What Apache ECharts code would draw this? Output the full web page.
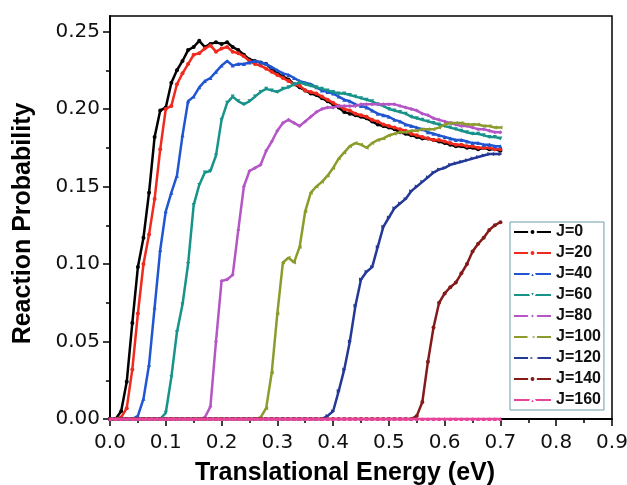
<!DOCTYPE html>
<html><head><meta charset="utf-8">
<script src="https://cdn.jsdelivr.net/npm/echarts@6/dist/echarts.min.js"></script>
<style>html,body{margin:0;padding:0;background:#fff}#c{width:627px;height:485px}</style>
</head><body><div id="c"></div>
<script>
const energy = [0.00,0.01,0.02,0.03,0.04,0.05,0.06,0.07,0.08,0.09,0.10,0.11,0.12,0.13,0.14,0.15,0.16,0.17,0.18,0.19,0.20,0.21,0.22,0.23,0.24,0.25,0.26,0.27,0.28,0.29,0.30,0.31,0.32,0.33,0.34,0.35,0.36,0.37,0.38,0.39,0.40,0.41,0.42,0.43,0.44,0.45,0.46,0.47,0.48,0.49,0.50,0.51,0.52,0.53,0.54,0.55,0.56,0.57,0.58,0.59,0.60,0.61,0.62,0.63,0.64,0.65,0.66,0.67,0.68,0.69,0.70];
const j0 = [0,0,0.005,0.024,0.062,0.098,0.117,0.146,0.182,0.199,0.201,0.217,0.225,0.231,0.238,0.240,0.244,0.240,0.242,0.243,0.242,0.243,0.240,0.238,0.235,0.232,0.231,0.230,0.229,0.226,0.223,0.221,0.219,0.216,0.214,0.212,0.210,0.209,0.207,0.205,0.203,0.201,0.198,0.197,0.196,0.195,0.194,0.192,0.190,0.189,0.188,0.187,0.185,0.184,0.183,0.182,0.181,0.181,0.180,0.179,0.178,0.177,0.176,0.176,0.175,0.175,0.174,0.175,0.174,0.174,0.173];
const j20 = [0,0,0.001,0.007,0.032,0.068,0.100,0.119,0.142,0.174,0.200,0.202,0.216,0.223,0.229,0.235,0.236,0.239,0.241,0.237,0.239,0.240,0.237,0.236,0.234,0.231,0.229,0.228,0.226,0.224,0.222,0.220,0.218,0.216,0.215,0.212,0.211,0.210,0.208,0.206,0.204,0.202,0.200,0.199,0.197,0.196,0.195,0.193,0.192,0.190,0.189,0.188,0.187,0.186,0.184,0.183,0.182,0.181,0.180,0.180,0.179,0.178,0.177,0.177,0.176,0.176,0.175,0.175,0.175,0.174,0.174];
const j40 = [0,0,0,0,0,0.002,0.013,0.035,0.072,0.109,0.134,0.146,0.157,0.183,0.205,0.208,0.214,0.218,0.220,0.224,0.228,0.231,0.228,0.229,0.229,0.230,0.231,0.230,0.229,0.227,0.225,0.223,0.222,0.220,0.218,0.217,0.216,0.214,0.212,0.211,0.210,0.208,0.206,0.205,0.203,0.202,0.201,0.199,0.197,0.196,0.195,0.193,0.192,0.190,0.189,0.188,0.187,0.185,0.184,0.183,0.182,0.181,0.180,0.180,0.179,0.178,0.178,0.177,0.177,0.176,0.176];
const j60 = [0,0,0,0,0,0,0,0,0,0,0.004,0.027,0.056,0.074,0.100,0.138,0.151,0.159,0.160,0.170,0.193,0.204,0.208,0.205,0.203,0.205,0.208,0.211,0.213,0.212,0.211,0.213,0.214,0.216,0.217,0.216,0.215,0.214,0.213,0.212,0.211,0.210,0.210,0.209,0.208,0.207,0.206,0.205,0.203,0.202,0.200,0.199,0.198,0.197,0.195,0.194,0.193,0.192,0.191,0.190,0.189,0.188,0.187,0.186,0.185,0.184,0.184,0.183,0.182,0.182,0.181];
const j80 = [0,0,0,0,0,0,0,0,0,0,0,0,0,0,0,0,0,0.001,0.008,0.050,0.089,0.090,0.093,0.122,0.150,0.160,0.162,0.164,0.173,0.179,0.186,0.191,0.193,0.191,0.189,0.192,0.195,0.198,0.200,0.201,0.201,0.202,0.202,0.202,0.202,0.203,0.203,0.203,0.203,0.203,0.203,0.203,0.202,0.201,0.200,0.199,0.197,0.196,0.194,0.193,0.192,0.191,0.190,0.189,0.189,0.188,0.187,0.187,0.186,0.185,0.185];
const j100 = [0,0,0,0,0,0,0,0,0,0,0,0,0,0,0,0,0,0,0,0,0,0,0,0,0,0,0,0.001,0.007,0.030,0.068,0.101,0.104,0.101,0.111,0.134,0.146,0.150,0.153,0.157,0.162,0.168,0.172,0.176,0.178,0.177,0.175,0.178,0.180,0.181,0.183,0.184,0.185,0.185,0.186,0.186,0.187,0.187,0.187,0.188,0.190,0.191,0.191,0.191,0.190,0.190,0.190,0.189,0.189,0.188,0.188];
const j120 = [0,0,0,0,0,0,0,0,0,0,0,0,0,0,0,0,0,0,0,0,0,0,0,0,0,0,0,0,0,0,0,0,0,0,0,0,0,0,0,0.002,0.005,0.018,0.032,0.050,0.073,0.090,0.095,0.098,0.111,0.124,0.130,0.136,0.139,0.142,0.147,0.150,0.153,0.156,0.159,0.161,0.162,0.164,0.165,0.166,0.167,0.168,0.169,0.170,0.171,0.171,0.171];
const j140 = [0,0,0,0,0,0,0,0,0,0,0,0,0,0,0,0,0,0,0,0,0,0,0,0,0,0,0,0,0,0,0,0,0,0,0,0,0,0,0,0,0,0,0,0,0,0,0,0,0,0,0,0,0,0,0,0.002,0.011,0.037,0.059,0.075,0.081,0.085,0.088,0.094,0.100,0.108,0.113,0.117,0.122,0.125,0.127];
const j160 = [0,0,0,0,0,0,0,0,0,0,0,0,0,0,0,0,0,0,0,0,0,0,0,0,0,0,0,0,0,0,0,0,0,0,0,0,0,0,0,0,0,0,0,0,0,0,0,0,0,0,0,0,0,0,0,0,0,0,0,0,0,0,0,0,0,0,0,0,0,0,0];
const seriesNames = ['J=0','J=20','J=40','J=60','J=80','J=100','J=120','J=140','J=160'];
const seriesValues = [j0,j20,j40,j60,j80,j100,j120,j140,j160];
const seriesColors = ['#000000','#f02a1e','#2156d2','#17938a','#b456c6','#8c9b2c','#243896','#841a1a','#e8449a'];
const seriesSymbols = ['circle','circle','triangle','triangle','diamond','triangle','triangle','circle','triangle'];
const seriesRotate = [0,0,0,180,0,90,-90,0,0];
const yMajor = [0,0.05,0.10,0.15,0.20,0.25];
const yMinor = [0.025,0.075,0.125,0.175,0.225];

const chart = echarts.init(document.getElementById('c'), null, {renderer:'canvas'});
const font = 'Liberation Sans, Arial, sans-serif';
const tickFont = 'DejaVu Sans, sans-serif';
const series = seriesNames.map((n,i)=>({
  name:n, type:'line', xAxisIndex:0, yAxisIndex:0, z:10+i,
  data: energy.map((e,k)=>[e, seriesValues[i][k]]),
  symbol: seriesSymbols[i], symbolRotate: seriesRotate[i], symbolSize: 4,
  showSymbol:true, clip:false,
  lineStyle:{color:seriesColors[i], width:2.5},
  itemStyle:{color:seriesColors[i]},
  emphasis:{disabled:true}
}));
chart.setOption({
  animation:false,
  backgroundColor:'#fff',
  grid:{left:110, right:15, top:16, bottom:66, containLabel:false, outerBoundsMode:'none',
        show:true, borderColor:'#000', borderWidth:1.5, backgroundColor:'transparent', z:0},
  xAxis:[{
    type:'value', min:0, max:0.9, interval:0.1, z:1,
    name:'Translational Energy (eV)', nameLocation:'middle', nameGap:42,
    nameTextStyle:{fontFamily:font, fontWeight:'bold', fontSize:25, color:'#000', padding:[0,32,0,0]},
    axisLine:{show:true, onZero:false, lineStyle:{color:'#000', width:2}},
    axisTick:{show:true, inside:false, length:7, lineStyle:{color:'#000', width:1.5}},
    minorTick:{show:true, splitNumber:2, length:4, lineStyle:{color:'#000', width:1.5}},
    splitLine:{show:false},
    axisLabel:{fontFamily:tickFont, fontSize:20, color:'#111', margin:14, formatter:v=>v.toFixed(1)}
  }],
  yAxis:[{
    type:'value', min:0, max:0.26, interval:0.05, z:1,
    name:'Reaction Probability', nameLocation:'middle', nameGap:74, nameRotate:90,
    nameTextStyle:{fontFamily:font, fontWeight:'bold', fontSize:25, color:'#000', padding:[0,12,0,0]},
    axisLine:{show:true, onZero:false, lineStyle:{color:'#000', width:2}},
    axisTick:{show:true, inside:false, length:7, customValues:yMajor, lineStyle:{color:'#000', width:1.5}},
    splitLine:{show:false},
    axisLabel:{fontFamily:tickFont, fontSize:20, color:'#111', margin:10, customValues:yMajor, formatter:v=>v.toFixed(2)}
  },{
    type:'value', min:0, max:0.26, position:'left', z:1,
    axisLine:{show:false},
    axisTick:{show:true, inside:false, length:4, customValues:yMinor, lineStyle:{color:'#000', width:1.5}},
    axisLabel:{show:false}, splitLine:{show:false}
  }],
  legend:{
    orient:'vertical', left:510, top:222, z:30,
    padding:[2,3,2,3], itemGap:5, itemWidth:37, itemHeight:8,
    borderColor:'#6c9eab', borderWidth:1, backgroundColor:'#fff',
    itemStyle:{borderColor:'#fff', borderWidth:2.5},
    textStyle:{fontFamily:font, fontWeight:'bold', fontSize:16, color:'#111'},
    data: seriesNames
  },
  series: series
});
</script></body></html>
